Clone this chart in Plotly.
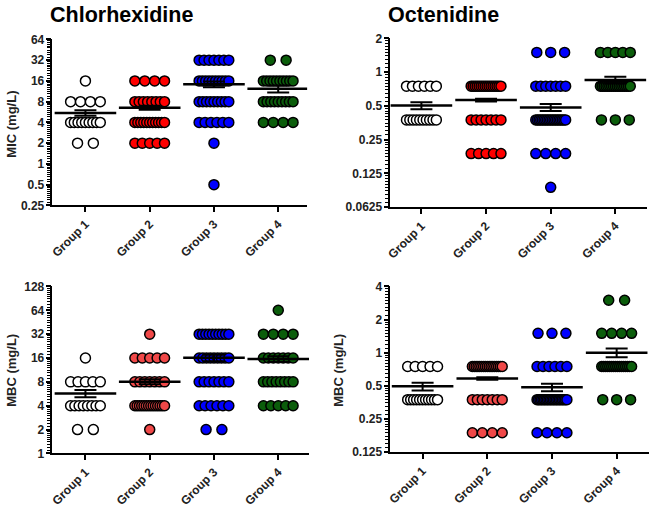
import numpy as np
import plotly.graph_objects as go

W, H = 650, 512

groups = ["Group 1", "Group 2", "Group 3", "Group 4"]

# ---- Chlorhexidine MIC (mg/L) ----
chx_mic_levels = [0.5, 1, 2, 4, 8, 16, 32]
chx_mic_counts = [
    [0, 0, 2, 9, 4, 1, 0],
    [0, 0, 5, 11, 8, 4, 0],
    [1, 0, 1, 6, 9, 10, 7],
    [0, 0, 0, 4, 9, 10, 2],
]
chx_mic_mean = [5.48, 6.55, 14.3, 12.3]
chx_mic_sem = [0.5, 0.45, 1.4, 1.4]

# ---- Octenidine MIC (mg/L) ----
oct_mic_levels = [0.09375, 0.1875, 0.375, 0.75, 1.5]
oct_mic_counts = [
    [0, 0, 10, 6, 0],
    [0, 5, 7, 16, 0],
    [1, 4, 19, 7, 3],
    [0, 0, 3, 17, 5],
]
oct_mic_mean = [0.503, 0.563, 0.484, 0.851]
oct_mic_sem = [0.037, 0.015, 0.035, 0.06]

# ---- Chlorhexidine MBC (mg/L) ----
chx_mbc_levels = [2, 4, 8, 16, 32, 64]
chx_mbc_counts = [
    [2, 8, 5, 1, 0, 0],
    [1, 14, 7, 5, 1, 0],
    [2, 6, 7, 9, 10, 0],
    [0, 5, 8, 7, 4, 1],
]
chx_mbc_mean = [5.72, 8.05, 16.1, 15.5]
chx_mbc_sem = [0.6, 0.6, 1.5, 1.3]

# ---- Octenidine MBC (mg/L) ----
oct_mbc_levels = [0.1875, 0.375, 0.75, 1.5, 3]
oct_mbc_counts = [
    [0, 11, 5, 0, 0],
    [4, 7, 17, 0, 0],
    [4, 21, 6, 3, 0],
    [0, 3, 16, 4, 2],
]
oct_mbc_mean = [0.495, 0.583, 0.485, 1.0]
oct_mbc_sem = [0.04, 0.015, 0.037, 0.09]

mic_colors = ["#FFFFFF", "#FF0000", "#0000FF", "#0B5D0B"]
mbc_colors = ["#FFFFFF", "#F04848", "#0000FF", "#0B5D0B"]

chx_mic_ticks = [0.25, 0.5, 1, 2, 4, 8, 16, 32, 64]
chx_mic_ticktext = ["0.25", "0.5", "1", "2", "4", "8", "16", "32", "64"]
oct_mic_ticks = [0.0625, 0.125, 0.25, 0.5, 1, 2]
oct_mic_ticktext = ["0.0625", "0.125", "0.25", "0.5", "1", "2"]
chx_mbc_ticks = [1, 2, 4, 8, 16, 32, 64, 128]
chx_mbc_ticktext = ["1", "2", "4", "8", "16", "32", "64", "128"]
oct_mbc_ticks = [0.125, 0.25, 0.5, 1, 2, 4]
oct_mbc_ticktext = ["0.125", "0.25", "0.5", "1", "2", "4"]

FONT = "Arial, Liberation Sans, sans-serif"
GROUP_PX = 65.0  # approximate pixel spacing between groups


def row_offsets(n):
    if n == 1:
        return np.array([0.0])
    spacing = {2: 16.0, 3: 14.0}.get(n, 11.0)
    span = min(spacing * (n - 1), 30.0)
    return np.linspace(-span / 2, span / 2, n) / GROUP_PX


fig = go.Figure()

panels = [
    dict(ax="", levels=chx_mic_levels, counts=chx_mic_counts, mean=chx_mic_mean, sem=chx_mic_sem,
         colors=mic_colors, ticks=chx_mic_ticks, ticktext=chx_mic_ticktext,
         xdom=(48, 305), ydom=(33.3, 204), xr=(0.475, 4.45)),
    dict(ax="2", levels=oct_mic_levels, counts=oct_mic_counts, mean=oct_mic_mean, sem=oct_mic_sem,
         colors=mic_colors, ticks=oct_mic_ticks, ticktext=oct_mic_ticktext,
         xdom=(388, 647), ydom=(32.3, 205.7), xr=(0.508, 4.49)),
    dict(ax="3", levels=chx_mbc_levels, counts=chx_mbc_counts, mean=chx_mbc_mean, sem=chx_mbc_sem,
         colors=mbc_colors, ticks=chx_mbc_ticks, ticktext=chx_mbc_ticktext,
         xdom=(48, 307), ydom=(287.3, 459), xr=(0.475, 4.48)),
    dict(ax="4", levels=oct_mbc_levels, counts=oct_mbc_counts, mean=oct_mbc_mean, sem=oct_mbc_sem,
         colors=mbc_colors, ticks=oct_mbc_ticks, ticktext=oct_mbc_ticktext,
         xdom=(388, 649), ydom=(287.3, 457.7), xr=(0.49, 4.5)),
]

layout_axes = {}
for pi, p in enumerate(panels):
    xa, ya = "x" + p["ax"], "y" + p["ax"]
    for gi, counts in enumerate(p["counts"]):
        xs, ys = [], []
        for lvl, c in zip(p["levels"], counts):
            if c == 0:
                continue
            offs = row_offsets(c)
            xs.extend(list(gi + 1 + offs))
            ys.extend([lvl] * c)
        fig.add_trace(go.Scatter(
            x=xs, y=ys, mode="markers", xaxis=xa, yaxis=ya, showlegend=False,
            marker=dict(size=10, color=p["colors"][gi], line=dict(color="black", width=1.5)),
            hoverinfo="skip"))
    # mean +/- SEM
    fig.add_trace(go.Scatter(
        x=[1, 2, 3, 4], y=p["mean"], mode="markers", xaxis=xa, yaxis=ya, showlegend=False,
        marker=dict(symbol="line-ew", size=44, color="black", line=dict(color="black", width=2.5)),
        error_y=dict(type="data", array=p["sem"], width=11, thickness=2, color="black"),
        hoverinfo="skip"))

    lo, hi = p["ticks"][0], p["ticks"][-1]
    # all tick positions: majors plus 9 minors per doubling
    all_vals, all_text = [], []
    v = lo
    k = 0
    while v < hi * 1.0001:
        all_vals.append(v)
        all_text.append(p["ticktext"][k])
        if v < hi * 0.9999:
            for i in range(1, 10):
                all_vals.append(v * (1 + i / 10))
                all_text.append("")
        v *= 2
        k += 1
    yr = [np.log10(lo), np.log10(hi)]
    ydomain = [1 - p["ydom"][1] / H, 1 - p["ydom"][0] / H]

    # overlay axis carrying the longer major ticks
    mnum = str(5 + pi)
    fig.add_trace(go.Scatter(x=[1], y=[p["ticks"][1]], xaxis=xa, yaxis="y" + mnum, mode="markers",
                             marker=dict(size=1, opacity=0), showlegend=False, hoverinfo="skip"))
    layout_axes["yaxis" + mnum] = dict(
        overlaying=ya, anchor=xa, side="left", type="log", range=yr,
        tickmode="array", tickvals=p["ticks"], showticklabels=False,
        ticks="outside", ticklen=5, tickwidth=1.5, tickcolor="black",
        showline=False, showgrid=False, zeroline=False, fixedrange=True)

    xkey = "xaxis" + p["ax"]
    ykey = "yaxis" + p["ax"]
    layout_axes[xkey] = dict(
        domain=[p["xdom"][0] / W, p["xdom"][1] / W], anchor=ya, range=list(p["xr"]),
        tickmode="array", tickvals=[1, 2, 3, 4], ticktext=groups, tickangle=-45,
        ticks="outside", ticklen=5, tickwidth=1.5, tickcolor="black",
        showline=True, linewidth=2, linecolor="black", showgrid=False, zeroline=False,
        tickfont=dict(family=FONT, size=12, color="#222", weight="bold"), fixedrange=True)
    layout_axes[ykey] = dict(
        domain=ydomain, anchor=xa, type="log", range=yr,
        tickmode="array", tickvals=all_vals, ticktext=all_text,
        ticks="outside", ticklen=3, tickwidth=1, tickcolor="black",
        showline=True, linewidth=2, linecolor="black", showgrid=False, zeroline=False,
        tickfont=dict(family=FONT, size=12, color="#222", weight="bold"), fixedrange=True)

annotations = [
    dict(text="Chlorhexidine", x=44 / W, y=1 - 8 / H, xanchor="left", yanchor="middle",
         font=dict(family=FONT, size=21.5, color="black", weight="bold")),
    dict(text="Octenidine", x=384 / W, y=1 - 8 / H, xanchor="left", yanchor="middle",
         font=dict(family=FONT, size=21.5, color="black", weight="bold")),
    dict(text="MIC (mg/L)", x=8 / W, y=1 - 120 / H, textangle=-90, xanchor="center", yanchor="middle",
         font=dict(family=FONT, size=13, color="#222", weight="bold")),
    dict(text="MBC (mg/L)", x=8 / W, y=1 - 373 / H, textangle=-90, xanchor="center", yanchor="middle",
         font=dict(family=FONT, size=13, color="#222", weight="bold")),
    dict(text="MBC (mg/L)", x=337 / W, y=1 - 373 / H, textangle=-90, xanchor="center", yanchor="middle",
         font=dict(family=FONT, size=13, color="#222", weight="bold")),
]
for a in annotations:
    a.update(xref="paper", yref="paper", showarrow=False)

fig.update_layout(
    width=W, height=H, margin=dict(l=0, r=0, t=0, b=0),
    paper_bgcolor="white", plot_bgcolor="white",
    annotations=annotations, **layout_axes)

fig.write_html("out.html", config={"displayModeBar": False},
               post_script="document.body.style.margin='0';document.body.style.overflow='hidden';")
